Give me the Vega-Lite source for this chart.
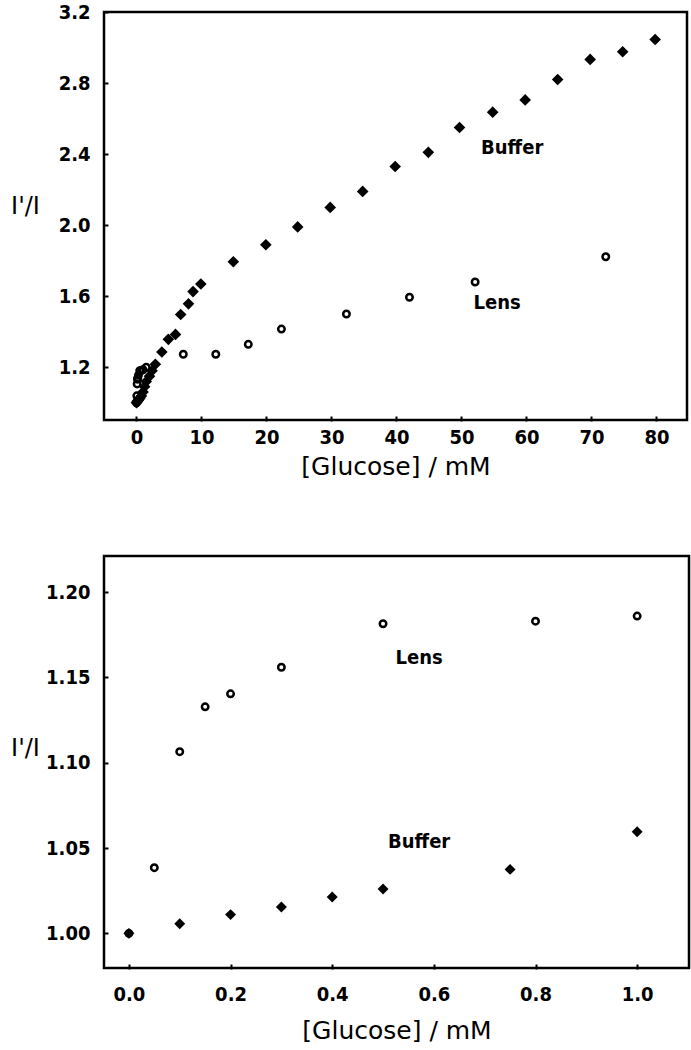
{
  "$schema": "https://vega.github.io/schema/vega-lite/v6.json",
  "background": "white",
  "padding": {"left": 9, "top": 0, "right": 2, "bottom": 2},
  "spacing": 73,
  "datasets": {
    "top": [
      {"conc": 0, "ratio": 1.0, "medium": "Buffer"},
      {"conc": 0.1, "ratio": 1.006, "medium": "Buffer"},
      {"conc": 0.2, "ratio": 1.011, "medium": "Buffer"},
      {"conc": 0.3, "ratio": 1.015, "medium": "Buffer"},
      {"conc": 0.4, "ratio": 1.021, "medium": "Buffer"},
      {"conc": 0.5, "ratio": 1.026, "medium": "Buffer"},
      {"conc": 0.75, "ratio": 1.038, "medium": "Buffer"},
      {"conc": 1.0, "ratio": 1.06, "medium": "Buffer"},
      {"conc": 1.25, "ratio": 1.09, "medium": "Buffer"},
      {"conc": 1.5, "ratio": 1.12, "medium": "Buffer"},
      {"conc": 2.0, "ratio": 1.15, "medium": "Buffer"},
      {"conc": 2.4, "ratio": 1.18, "medium": "Buffer"},
      {"conc": 2.9, "ratio": 1.217, "medium": "Buffer"},
      {"conc": 3.9, "ratio": 1.286, "medium": "Buffer"},
      {"conc": 4.9, "ratio": 1.357, "medium": "Buffer"},
      {"conc": 6.0, "ratio": 1.385, "medium": "Buffer"},
      {"conc": 6.8, "ratio": 1.497, "medium": "Buffer"},
      {"conc": 8.0, "ratio": 1.557, "medium": "Buffer"},
      {"conc": 8.7, "ratio": 1.626, "medium": "Buffer"},
      {"conc": 9.9, "ratio": 1.669, "medium": "Buffer"},
      {"conc": 14.9, "ratio": 1.794, "medium": "Buffer"},
      {"conc": 19.9, "ratio": 1.89, "medium": "Buffer"},
      {"conc": 24.8, "ratio": 1.99, "medium": "Buffer"},
      {"conc": 29.8, "ratio": 2.1, "medium": "Buffer"},
      {"conc": 34.8, "ratio": 2.19, "medium": "Buffer"},
      {"conc": 39.8, "ratio": 2.33, "medium": "Buffer"},
      {"conc": 44.9, "ratio": 2.41, "medium": "Buffer"},
      {"conc": 49.7, "ratio": 2.55, "medium": "Buffer"},
      {"conc": 54.8, "ratio": 2.636, "medium": "Buffer"},
      {"conc": 59.8, "ratio": 2.705, "medium": "Buffer"},
      {"conc": 64.8, "ratio": 2.82, "medium": "Buffer"},
      {"conc": 69.8, "ratio": 2.933, "medium": "Buffer"},
      {"conc": 74.8, "ratio": 2.976, "medium": "Buffer"},
      {"conc": 79.8, "ratio": 3.045, "medium": "Buffer"},
      {"conc": 0, "ratio": 1.0, "medium": "Lens"},
      {"conc": 0.05, "ratio": 1.039, "medium": "Lens"},
      {"conc": 0.1, "ratio": 1.106, "medium": "Lens"},
      {"conc": 0.15, "ratio": 1.133, "medium": "Lens"},
      {"conc": 0.2, "ratio": 1.14, "medium": "Lens"},
      {"conc": 0.3, "ratio": 1.156, "medium": "Lens"},
      {"conc": 0.5, "ratio": 1.181, "medium": "Lens"},
      {"conc": 0.8, "ratio": 1.183, "medium": "Lens"},
      {"conc": 1.0, "ratio": 1.186, "medium": "Lens"},
      {"conc": 1.5, "ratio": 1.2, "medium": "Lens"},
      {"conc": 7.2, "ratio": 1.273, "medium": "Lens"},
      {"conc": 12.2, "ratio": 1.273, "medium": "Lens"},
      {"conc": 17.2, "ratio": 1.329, "medium": "Lens"},
      {"conc": 22.3, "ratio": 1.415, "medium": "Lens"},
      {"conc": 32.3, "ratio": 1.5, "medium": "Lens"},
      {"conc": 42.0, "ratio": 1.594, "medium": "Lens"},
      {"conc": 52.1, "ratio": 1.68, "medium": "Lens"},
      {"conc": 72.2, "ratio": 1.822, "medium": "Lens"}
    ],
    "bottom": [
      {"conc": 0, "ratio": 1.0, "medium": "Buffer"},
      {"conc": 0.1, "ratio": 1.0056, "medium": "Buffer"},
      {"conc": 0.2, "ratio": 1.011, "medium": "Buffer"},
      {"conc": 0.3, "ratio": 1.0155, "medium": "Buffer"},
      {"conc": 0.4, "ratio": 1.0213, "medium": "Buffer"},
      {"conc": 0.5, "ratio": 1.026, "medium": "Buffer"},
      {"conc": 0.75, "ratio": 1.0375, "medium": "Buffer"},
      {"conc": 1.0, "ratio": 1.0596, "medium": "Buffer"},
      {"conc": 0, "ratio": 1.0, "medium": "Lens"},
      {"conc": 0.05, "ratio": 1.0385, "medium": "Lens"},
      {"conc": 0.1, "ratio": 1.1065, "medium": "Lens"},
      {"conc": 0.15, "ratio": 1.1328, "medium": "Lens"},
      {"conc": 0.2, "ratio": 1.1404, "medium": "Lens"},
      {"conc": 0.3, "ratio": 1.156, "medium": "Lens"},
      {"conc": 0.5, "ratio": 1.1815, "medium": "Lens"},
      {"conc": 0.8, "ratio": 1.183, "medium": "Lens"},
      {"conc": 1.0, "ratio": 1.186, "medium": "Lens"}
    ],
    "topLabels": [
      {"conc": 57.8, "ratio": 2.432, "text": "Buffer"},
      {"conc": 55.5, "ratio": 1.559, "text": "Lens"}
    ],
    "bottomLabels": [
      {"conc": 0.571, "ratio": 1.1614, "text": "Lens"},
      {"conc": 0.571, "ratio": 1.0535, "text": "Buffer"}
    ]
  },
  "config": {
    "view": {"stroke": "black", "strokeWidth": 2.5, "fill": "white"},
    "axis": {
      "domain": false,
      "grid": false,
      "offset": -4,
      "tickColor": "black",
      "tickWidth": 2,
      "tickSize": 5,
      "zindex": 1,
      "labelFont": "DejaVu Sans Condensed",
      "labelFontWeight": "bold",
      "labelFontSize": 20,
      "labelColor": "black",
      "titleFont": "DejaVu Sans",
      "titleFontWeight": "normal",
      "titleFontSize": 25,
      "titleColor": "black"
    },
    "axisY": {"labelPadding": 13}
  },
  "vconcat": [
    {
      "width": 583,
      "height": 408,
      "encoding": {
        "x": {"field": "conc", "type": "quantitative",
          "scale": {"domain": [-5, 84.7], "nice": false, "zero": false},
          "axis": {"title": "[Glucose] / mM", "values": [0, 10, 20, 30, 40, 50, 60, 70, 80], "format": "d", "labelPadding": 6, "titlePadding": 7}},
        "y": {"field": "ratio", "type": "quantitative",
          "scale": {"domain": [0.903, 3.2], "nice": false, "zero": false},
          "axis": {"title": "I'/I", "values": [1.2, 1.6, 2.0, 2.4, 2.8, 3.2], "format": ".1f",
            "titleAngle": 0, "titleX": -83, "titleY": 194, "titleAlign": "center", "titleBaseline": "middle", "titleFontSize": 24}}
      },
      "layer": [
        {
          "data": {"name": "top"},
          "transform": [{"filter": "datum.medium === 'Lens'"}],
          "mark": {"type": "point", "shape": "circle", "filled": false, "stroke": "black", "strokeWidth": 2.5, "size": 42, "opacity": 1}
        },
        {
          "data": {"name": "top"},
          "transform": [{"filter": "datum.medium === 'Buffer'"}],
          "mark": {"type": "point", "shape": "diamond", "filled": true, "color": "black", "size": 135, "opacity": 1}
        },
        {
          "data": {"name": "topLabels"},
          "mark": {"type": "text", "font": "DejaVu Sans Condensed", "fontWeight": "bold", "fontSize": 20, "color": "black", "align": "center", "baseline": "middle"},
          "encoding": {"text": {"field": "text"}}
        }
      ]
    },
    {
      "width": 585,
      "height": 412,
      "encoding": {
        "x": {"field": "conc", "type": "quantitative",
          "scale": {"domain": [-0.049, 1.102], "nice": false, "zero": false},
          "axis": {"title": "[Glucose] / mM", "values": [0, 0.2, 0.4, 0.6, 0.8, 1.0], "format": ".1f", "labelPadding": 15, "titlePadding": 14}},
        "y": {"field": "ratio", "type": "quantitative",
          "scale": {"domain": [0.9797, 1.2212], "nice": false, "zero": false},
          "axis": {"title": "I'/I", "values": [1.0, 1.05, 1.1, 1.15, 1.2], "format": ".2f",
            "titleAngle": 0, "titleX": -83, "titleY": 192, "titleAlign": "center", "titleBaseline": "middle", "titleFontSize": 24}}
      },
      "layer": [
        {
          "data": {"name": "bottom"},
          "transform": [{"filter": "datum.medium === 'Lens'"}],
          "mark": {"type": "point", "shape": "circle", "filled": false, "stroke": "black", "strokeWidth": 2.5, "size": 42, "opacity": 1}
        },
        {
          "data": {"name": "bottom"},
          "transform": [{"filter": "datum.medium === 'Buffer'"}],
          "mark": {"type": "point", "shape": "diamond", "filled": true, "color": "black", "size": 120, "opacity": 1}
        },
        {
          "data": {"name": "bottomLabels"},
          "mark": {"type": "text", "font": "DejaVu Sans Condensed", "fontWeight": "bold", "fontSize": 20, "color": "black", "align": "center", "baseline": "middle"},
          "encoding": {"text": {"field": "text"}}
        }
      ]
    }
  ]
}
